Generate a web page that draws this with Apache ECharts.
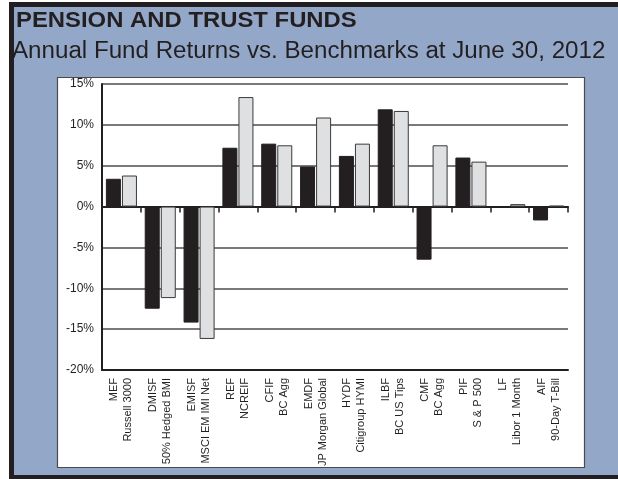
<!DOCTYPE html>
<html>
<head>
<meta charset="utf-8">
<script src="https://cdn.jsdelivr.net/npm/echarts@6/dist/echarts.min.js"></script>
<style>
  html, body { margin: 0; padding: 0; background: #fff; overflow: hidden; }
  #chart { width: 618px; height: 479px; }
</style>
</head>
<body>
<div id="chart"></div>
<script>
const titleText = 'PENSION AND TRUST FUNDS';
const subtitleText = 'Annual Fund Returns vs. Benchmarks at June 30, 2012';
const funds = ['MEF', 'DMISF', 'EMISF', 'REF', 'CFIF', 'EMDF', 'HYDF', 'ILBF', 'CMF', 'PIF', 'LF', 'AIF'];
const benchmarks = ['Russell 3000', '50% Hedged BMI', 'MSCI EM IMI Net', 'NCREIF', 'BC Agg', 'JP Morgan Global', 'Citigroup HYMI', 'BC US Tips', 'BC Agg', 'S & P 500', 'Libor 1 Month', '90-Day T-Bill'];
const fundReturns = [3.4, -12.5, -14.2, 7.2, 7.7, 4.9, 6.2, 11.9, -6.5, 6.0, -0.1, -1.7];
const benchmarkReturns = [3.8, -11.2, -16.2, 13.4, 7.5, 10.9, 7.7, 11.7, 7.5, 5.5, 0.3, 0.1];
const yMin = -20, yMax = 15, yStep = 5;

const categories = funds.map((f, i) => f + '\n' + benchmarks[i]);
const ink = '#231f20';

const chart = echarts.init(document.getElementById('chart'), null, { renderer: 'canvas', width: 618, height: 479 });
chart.setOption({
  backgroundColor: '#93a8c9',
  animation: false,
  graphic: [
    { type: 'rect', z: -30, shape: { x: 0, y: 0, width: 9, height: 479 }, style: { fill: '#ffffff' } },
    { type: 'rect', z: -30, shape: { x: 0, y: 0, width: 618, height: 2 }, style: { fill: '#ffffff' } },
    { type: 'rect', z: -29, shape: { x: 9, y: 2, width: 5, height: 477 }, style: { fill: ink } },
    { type: 'rect', z: -29, shape: { x: 9, y: 2, width: 609, height: 5 }, style: { fill: ink } },
    { type: 'rect', z: -29, shape: { x: 9, y: 475, width: 609, height: 4 }, style: { fill: ink } },
    { type: 'rect', z: -28, shape: { x: 57.5, y: 77.5, width: 527, height: 390 }, style: { fill: '#ffffff', stroke: '#4a4a4a', lineWidth: 1.2 } },
    { type: 'text', z: 10, x: 16, y: 21, scaleX: 1.11, style: { text: titleText, fill: ink, font: 'bold 21.5px "Liberation Sans", Arial, sans-serif', verticalAlign: 'middle', align: 'left' } },
    { type: 'text', z: 10, x: 12, y: 52, scaleX: 1.05, style: { text: subtitleText, fill: ink, font: '23px "Liberation Sans", Arial, sans-serif', verticalAlign: 'middle', align: 'left' } }
  ],
  grid: { left: 102, right: 50, top: 84, bottom: 109, containLabel: false },
  xAxis: [
    {
      type: 'category',
      data: categories,
      position: 'bottom',
      axisLine: { show: true, onZero: false, lineStyle: { color: ink, width: 2 } },
      axisTick: { show: false },
      axisLabel: {
        rotate: 90, margin: 8, color: ink, fontSize: 11, lineHeight: 14,
        fontFamily: '"Liberation Sans", Arial, sans-serif', interval: 0
      },
      splitLine: { show: false }
    },
    {
      type: 'category',
      data: categories,
      position: 'bottom',
      axisLine: { show: true, onZero: true, lineStyle: { color: ink, width: 2 } },
      axisTick: { show: true, interval: 0, length: 6, inside: false, lineStyle: { color: ink, width: 1.5 } },
      axisLabel: { show: false, interval: 0 },
      splitLine: { show: false }
    }
  ],
  yAxis: {
    type: 'value',
    min: yMin, max: yMax, interval: yStep,
    axisLine: { show: true, lineStyle: { color: ink, width: 2 } },
    axisTick: { show: false },
    axisLabel: { formatter: '{value}%', color: ink, fontSize: 12, margin: 8, padding: [6, 0, 0, 0], fontFamily: '"Liberation Sans", Arial, sans-serif' },
    splitLine: { show: true, lineStyle: { color: '#4d4d4d', width: 1.5 } }
  },
  series: [
    {
      name: 'Fund', type: 'bar', xAxisIndex: 0, data: fundReturns,
      barWidth: 15, barGap: '7%',
      itemStyle: { color: ink, borderColor: ink, borderWidth: 1 }
    },
    {
      name: 'Benchmark', type: 'bar', xAxisIndex: 0, data: benchmarkReturns,
      barWidth: 15, barGap: '7%',
      itemStyle: { color: '#dfe0e2', borderColor: '#3a3a3a', borderWidth: 1 }
    }
  ]
});
</script>
</body>
</html>
